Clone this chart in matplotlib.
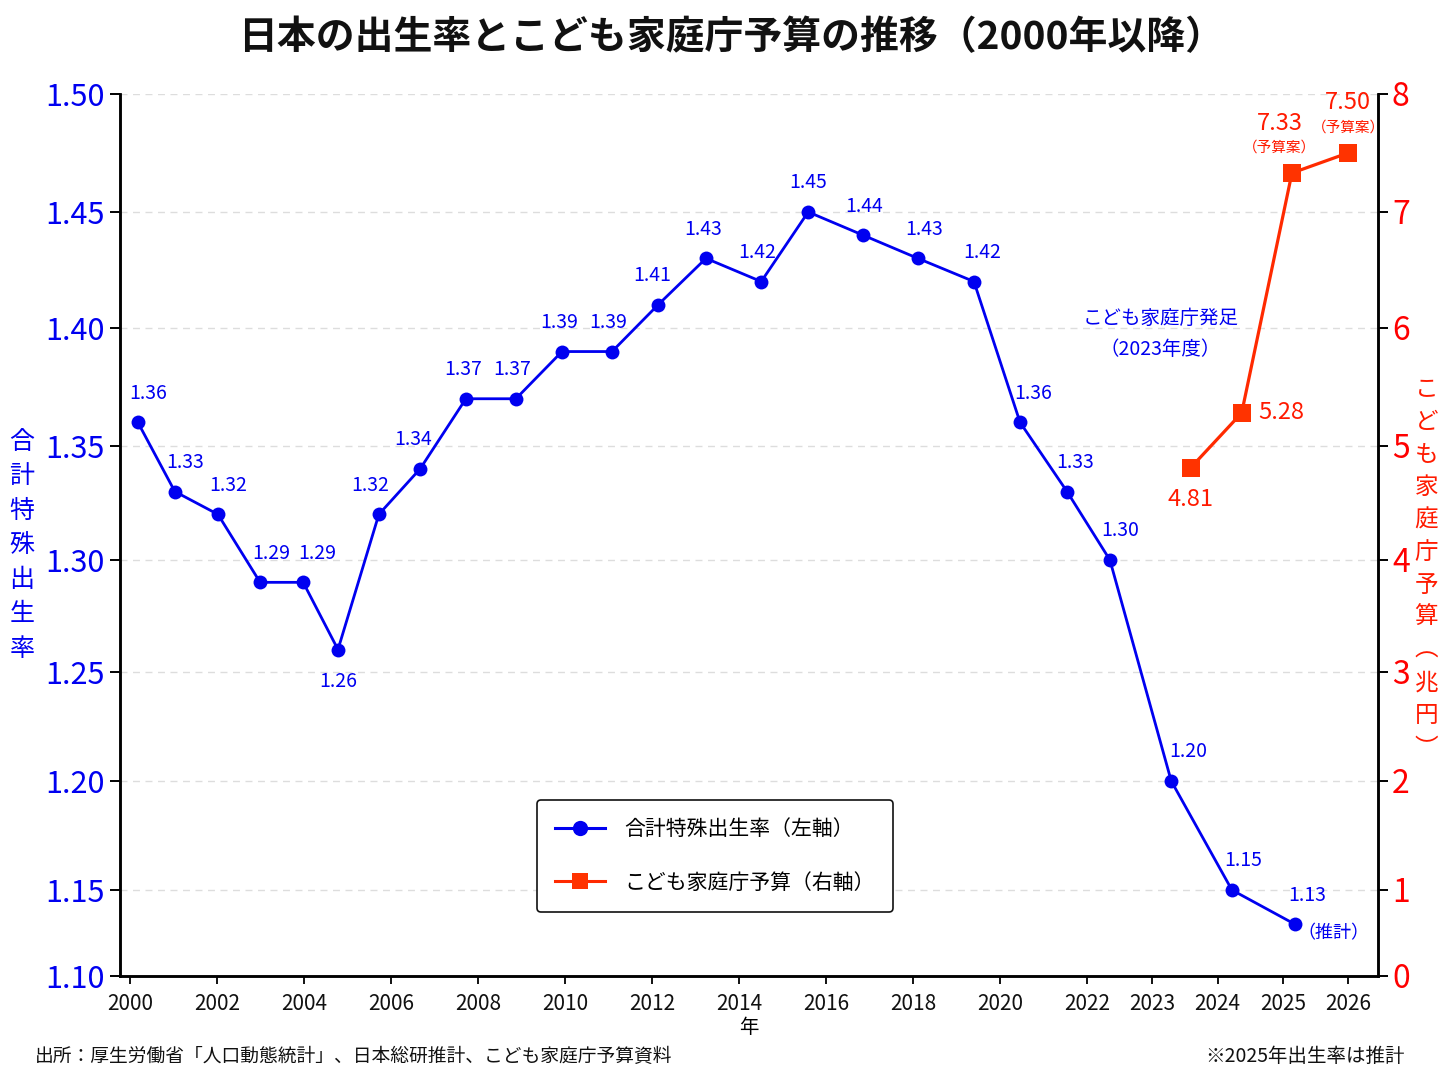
import numpy as np
import matplotlib
matplotlib.use("Agg")
import matplotlib.pyplot as plt
from matplotlib.lines import Line2D

plt.rcParams["font.family"] = ["Noto Sans CJK JP", "DejaVu Sans"]

# ---- data ------------------------------------------------------------------

# x position of each fertility point as drawn in the source (axis year units)
birth_x = [2000.18, 2001.03, 2002.02, 2002.99, 2003.98, 2004.78, 2005.72,
           2006.67, 2007.72, 2008.87, 2009.93, 2011.08, 2012.14, 2013.24,
           2014.51, 2015.59, 2016.85, 2018.11, 2019.40, 2020.46, 2021.54,
           2022.35, 2023.29, 2024.22, 2025.19]
birth_rate = [1.36, 1.33, 1.32, 1.29, 1.29, 1.26, 1.32, 1.34, 1.37, 1.37,
              1.39, 1.39, 1.41, 1.43, 1.42, 1.45, 1.44, 1.43, 1.42, 1.36,
              1.33, 1.30, 1.20, 1.15, 1.13]

budget_x = [2023.59, 2024.37, 2025.14, 2026.0]
budget = [4.81, 5.28, 7.33, 7.50]          # 兆円
budget_note = ["", "", "（予算案）", "（予算案）"]

x_ticks = [2000, 2002, 2004, 2006, 2008, 2010, 2012, 2014, 2016, 2018,
           2020, 2022, 2023, 2024, 2025, 2026]
left_ticks = [1.10, 1.15, 1.20, 1.25, 1.30, 1.35, 1.40, 1.45, 1.50]
right_ticks = [0, 1, 2, 3, 4, 5, 6, 7, 8]

LEFT_TITLE = "合計特殊出生率"
RIGHT_TITLE = ["こ", "ど", "も", "家", "庭", "庁", "予", "算", "︵", "兆", "円", "︶"]

# ---- axis geometry: the source grid is not evenly spaced ---------------------

TICK_FRAC = [0.0, 0.0975, 0.2211, 0.3447, 0.4717, 0.6009, 0.7347, 0.8662, 1.0]
X_BREAK, X_STRETCH = 2022, 1.5     # years after 2022 are drawn 1.5x wider


def _x_fwd(x):
    x = np.asarray(x, dtype=float)
    return np.where(x <= X_BREAK, x, X_BREAK + X_STRETCH * (x - X_BREAK))


def _x_inv(u):
    u = np.asarray(u, dtype=float)
    return np.where(u <= X_BREAK, u, X_BREAK + (u - X_BREAK) / X_STRETCH)


def _y_scale(ticks):
    return (lambda v: np.interp(v, ticks, TICK_FRAC),
            lambda f: np.interp(f, TICK_FRAC, ticks))


# ---- palette -----------------------------------------------------------------

C_BLUE = "#0000F0"
C_RED_LINE = "#FF2A00"
C_RED_TXT = "#FF1A00"
C_GRID = "#DDDDDD"

# label offsets (pixels) relative to each blue point
blue_dx = [10, 10, 10, 11, 14, 0, -9, -7, -3, -4, -3, -4, -6, -3, -4, 0, 1,
           6, 8, 13, 8, 10, 17, 11, 12]
blue_dy = [29] * len(birth_rate)
blue_dy[5] = -32

fig = plt.figure(figsize=(14.48, 10.86), dpi=100)
ax = fig.add_axes([0.0829, 0.1013, 0.8688, 0.8122])
ax.set_xscale("function", functions=(_x_fwd, _x_inv))
ax.set_yscale("function", functions=_y_scale(left_ticks))
ax2 = ax.twinx()
ax2.set_yscale("function", functions=_y_scale(right_ticks))

ax.set_xlim(1999.77, 2026.46)
ax.set_ylim(1.10, 1.50)
ax2.set_ylim(0, 8)

# grid
ax.set_yticks(left_ticks)
ax.yaxis.grid(True, linestyle=(0, (5, 4)), color=C_GRID, linewidth=1.0)
ax.set_axisbelow(True)

# series
ax.plot(birth_x, birth_rate, color=C_BLUE, linewidth=2.0, marker="o",
        markersize=10, markeredgewidth=0, zorder=3)
ax2.plot(budget_x, budget, color=C_RED_LINE, linewidth=2.3, marker="s",
         markersize=12.5, markerfacecolor="#FF3300", markeredgewidth=0, zorder=3)

# blue value labels
for x, v, dx, dy in zip(birth_x, birth_rate, blue_dx, blue_dy):
    ax.annotate(f"{v:.2f}", xy=(x, v), xytext=(dx, dy),
                textcoords="offset pixels", ha="center", va="center",
                fontsize=14, color=C_BLUE)
ax.annotate("（推計）", xy=(birth_x[-1], birth_rate[-1]), xytext=(38, -9),
            textcoords="offset pixels", ha="center", va="center",
            fontsize=13, color=C_BLUE)

# red value labels
red_pos = [(0, -32, "center"), (17, 0, "left"), (-12, 50, "center"), (0, 50, "center")]
for x, v, note, (dx, dy, ha) in zip(budget_x, budget, budget_note, red_pos):
    ax2.annotate(f"{v:.2f}", xy=(x, v), xytext=(dx, dy),
                 textcoords="offset pixels", ha=ha, va="center",
                 fontsize=17, color=C_RED_TXT)
    if note:
        ax2.annotate(note, xy=(x, v), xytext=(dx, dy - 25),
                     textcoords="offset pixels", ha="center", va="center",
                     fontsize=10.5, color=C_RED_TXT)

ax.text(0.827, 0.728, "こども家庭庁発足\n（2023年度）", transform=ax.transAxes,
        ha="center", va="center", fontsize=14, color=C_BLUE, linespacing=1.65)

# axes styling
for a in (ax, ax2):
    a.spines["top"].set_visible(False)
    for side in ("left", "right", "bottom"):
        a.spines[side].set_linewidth(1.8)
ax.set_xticks(x_ticks)
ax.set_xticklabels([str(t) for t in x_ticks])
ax.xaxis.set_minor_locator(matplotlib.ticker.NullLocator())
ax.yaxis.set_minor_locator(matplotlib.ticker.NullLocator())
ax2.yaxis.set_minor_locator(matplotlib.ticker.NullLocator())
ax.tick_params(axis="x", labelsize=15, length=6, width=1.4, pad=6,
               colors="#111111")
ax.set_yticklabels([f"{t:.2f}" for t in left_ticks])
ax.tick_params(axis="y", labelsize=22, length=7, width=1.4, pad=4,
               labelcolor=C_BLUE)
ax2.set_yticks(right_ticks)
ax2.set_yticklabels([str(t) for t in right_ticks])
ax2.tick_params(axis="y", labelsize=23, length=7, width=1.4, pad=3,
                labelcolor="#FF0000")
ax.set_xlabel("年", fontsize=14, labelpad=2)

# legend
handles = [
    Line2D([0], [0], color=C_BLUE, linewidth=2.2, marker="o", markersize=11,
           markeredgewidth=0, label="合計特殊出生率（左軸）"),
    Line2D([0], [0], color=C_RED_LINE, linewidth=2.2, marker="s",
           markersize=12, markerfacecolor="#FF3300", markeredgewidth=0,
           label="こども家庭庁予算（右軸）"),
]
leg = ax2.legend(handles=handles, loc="center", bbox_to_anchor=(0.473, 0.136),
                 fontsize=15, frameon=True, fancybox=True, handlelength=2.4,
                 handletextpad=0.9, labelspacing=1.5, borderpad=0.9,
                 borderaxespad=0)
leg.get_frame().set_edgecolor("#111111")
leg.get_frame().set_linewidth(1.2)
leg.get_frame().set_alpha(1.0)

# vertical axis titles (stacked upright characters)
for i, ch in enumerate(LEFT_TITLE):
    fig.text(0.0152, 0.593 - i * 0.0317, ch, ha="center", va="center",
             fontsize=18, color=C_BLUE)
for i, ch in enumerate(RIGHT_TITLE):
    fig.text(0.985, 0.641 - i * 0.0300, ch, ha="center", va="center",
             fontsize=17, color="#FF1A00")

fig.text(0.505, 0.965, "日本の出生率とこども家庭庁予算の推移（2000年以降）",
         ha="center", va="center", fontsize=28, fontweight="bold",
         color="#111111")
fig.text(0.024, 0.027, "出所：厚生労働省「人口動態統計」、日本総研推計、こども家庭庁予算資料",
         ha="left", va="center", fontsize=13.5, color="#111111")
fig.text(0.970, 0.027, "※2025年出生率は推計", ha="right", va="center",
         fontsize=14, color="#111111")

fig.savefig("out.png", dpi=100, facecolor="white")
